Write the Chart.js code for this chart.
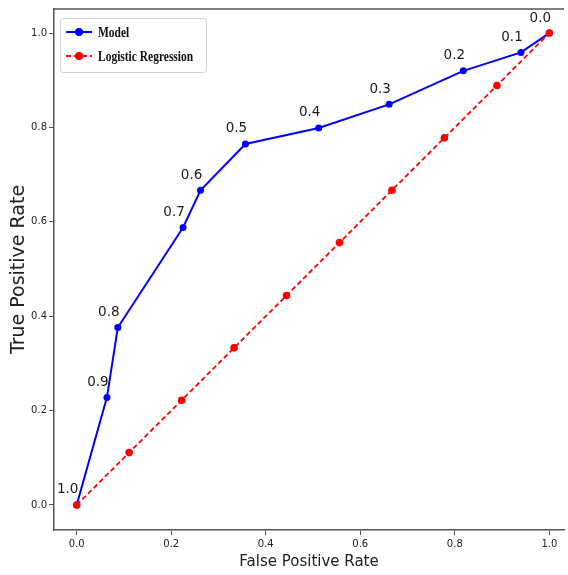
<!DOCTYPE html>
<html>
<head>
<meta charset="utf-8">
<script src="https://cdn.jsdelivr.net/npm/chart.js@4.4.0/dist/chart.umd.min.js"></script>
<style>
html, body { margin: 0; padding: 0; background: #fff; overflow: hidden; }
#wrap { width: 568px; height: 575px; }
</style>
</head>
<body>
<div id="wrap"><canvas id="roc" width="568" height="575"></canvas></div>
<script>
// ROC data
const modelFpr = [0, 0.064, 0.087, 0.225, 0.262, 0.357, 0.512, 0.661, 0.818, 0.94, 1.0];
const modelTpr = [0, 0.228, 0.376, 0.588, 0.667, 0.765, 0.799, 0.849, 0.92, 0.959, 1.0];
const thresholds = ['1.0', '0.9', '0.8', '0.7', '0.6', '0.5', '0.4', '0.3', '0.2', '0.1', '0.0'];

const lrFpr = [0, 0.111, 0.222, 0.333, 0.444, 0.556, 0.667, 0.778, 0.889, 1.0];
const lrTpr = [0, 0.111, 0.222, 0.333, 0.444, 0.556, 0.667, 0.778, 0.889, 1.0];

const xTicks = [0, 0.2, 0.4, 0.6, 0.8, 1.0];
const yTicks = [0, 0.2, 0.4, 0.6, 0.8, 1.0];

const axisColor = '#555';
const tickFont = { family: 'DejaVu Sans', size: 10 };

// top frame line (matplotlib box)
const framePlugin = {
    id: 'frame',
    beforeDatasetsDraw(chart) {
        const { ctx, chartArea } = chart;
        ctx.save();
        ctx.strokeStyle = axisColor;
        ctx.lineWidth = 1.5;
        ctx.beginPath();
        ctx.moveTo(chartArea.left, chartArea.top);
        ctx.lineTo(chartArea.right, chartArea.top);
        ctx.stroke();
        ctx.restore();
    }
};

// threshold labels next to model points
const thresholdPlugin = {
    id: 'thresholds',
    afterDatasetsDraw(chart) {
        const { ctx } = chart;
        const meta = chart.getDatasetMeta(0);
        ctx.save();
        ctx.font = '13.5px "DejaVu Sans"';
        ctx.fillStyle = '#1a1a1a';
        ctx.textAlign = 'center';
        ctx.textBaseline = 'middle';
        meta.data.forEach((pt, i) => {
            ctx.fillText(thresholds[i], pt.x - 9, pt.y - 15);
        });
        ctx.restore();
    }
};

// legend box in the upper left corner
const legendPlugin = {
    id: 'boxLegend',
    afterDraw(chart) {
        const { ctx } = chart;
        const bx = 60.5, by = 18.5, bw = 146, bh = 54;
        ctx.save();
        ctx.fillStyle = 'rgba(255,255,255,0.9)';
        ctx.strokeStyle = '#d0d0d0';
        ctx.lineWidth = 1;
        ctx.beginPath();
        ctx.roundRect(bx, by, bw, bh, 3);
        ctx.fill();
        ctx.stroke();

        chart.data.datasets.forEach((ds, i) => {
            const y = 32 + i * 24;
            ctx.strokeStyle = ds.borderColor;
            ctx.lineWidth = 2;
            ctx.setLineDash(ds.borderDash || []);
            ctx.beginPath();
            ctx.moveTo(66, y);
            ctx.lineTo(92, y);
            ctx.stroke();
            ctx.setLineDash([]);
            ctx.fillStyle = ds.borderColor;
            ctx.beginPath();
            ctx.arc(79, y, 4, 0, Math.PI * 2);
            ctx.fill();

            ctx.save();
            ctx.translate(98, y);
            ctx.scale(0.82, 1);
            ctx.font = 'bold 14px "Liberation Serif"';
            ctx.fillStyle = '#111';
            ctx.textBaseline = 'middle';
            ctx.fillText(ds.label, 0, 1);
            ctx.restore();
        });
        ctx.restore();
    }
};

new Chart(document.getElementById('roc'), {
    type: 'scatter',
    data: {
        datasets: [{
            label: 'Model',
            data: modelFpr.map((x, i) => ({ x: x, y: modelTpr[i] })),
            showLine: true,
            borderColor: '#0000ff',
            backgroundColor: '#0000ff',
            borderWidth: 2,
            pointRadius: 3.5,
            pointBorderWidth: 0,
            order: 1
        }, {
            label: 'Logistic Regression',
            data: lrFpr.map((x, i) => ({ x: x, y: lrTpr[i] })),
            showLine: true,
            borderColor: '#ff0000',
            backgroundColor: '#ff0000',
            borderWidth: 1.8,
            borderDash: [5, 3],
            pointRadius: 3.8,
            pointBorderWidth: 0,
            order: 0
        }]
    },
    options: {
        responsive: false,
        animation: false,
        layout: { padding: { top: 9, right: 1, left: 0, bottom: 0 } },
        plugins: { legend: { display: false }, tooltip: { enabled: false } },
        scales: {
            x: {
                type: 'linear',
                min: -0.048,
                max: 1.031,
                afterBuildTicks: s => { s.ticks = xTicks.map(v => ({ value: v })); },
                afterFit: s => { s.height = 45; },
                ticks: { callback: v => v.toFixed(1), font: tickFont, color: '#222', padding: 3, maxRotation: 0 },
                grid: { drawOnChartArea: false, drawTicks: true, tickLength: 5, color: axisColor },
                border: { color: axisColor, width: 1.5 },
                title: {
                    display: true,
                    text: 'False Positive Rate',
                    font: { family: 'DejaVu Sans', size: 15 },
                    color: '#222',
                    padding: { top: 0, bottom: 4 }
                }
            },
            y: {
                type: 'linear',
                min: -0.053,
                max: 1.051,
                afterBuildTicks: s => { s.ticks = yTicks.map(v => ({ value: v })); },
                afterFit: s => { s.width = 54; },
                ticks: { callback: v => v.toFixed(1), font: tickFont, color: '#222', padding: 2 },
                grid: { drawOnChartArea: false, drawTicks: true, tickLength: 5, color: axisColor },
                border: { color: axisColor, width: 1.5 },
                title: {
                    display: true,
                    text: 'True Positive Rate',
                    font: { family: 'DejaVu Sans', size: 19 },
                    color: '#222',
                    padding: { top: 8, bottom: 0 }
                }
            }
        }
    },
    plugins: [framePlugin, thresholdPlugin, legendPlugin]
});
</script>
</body>
</html>
